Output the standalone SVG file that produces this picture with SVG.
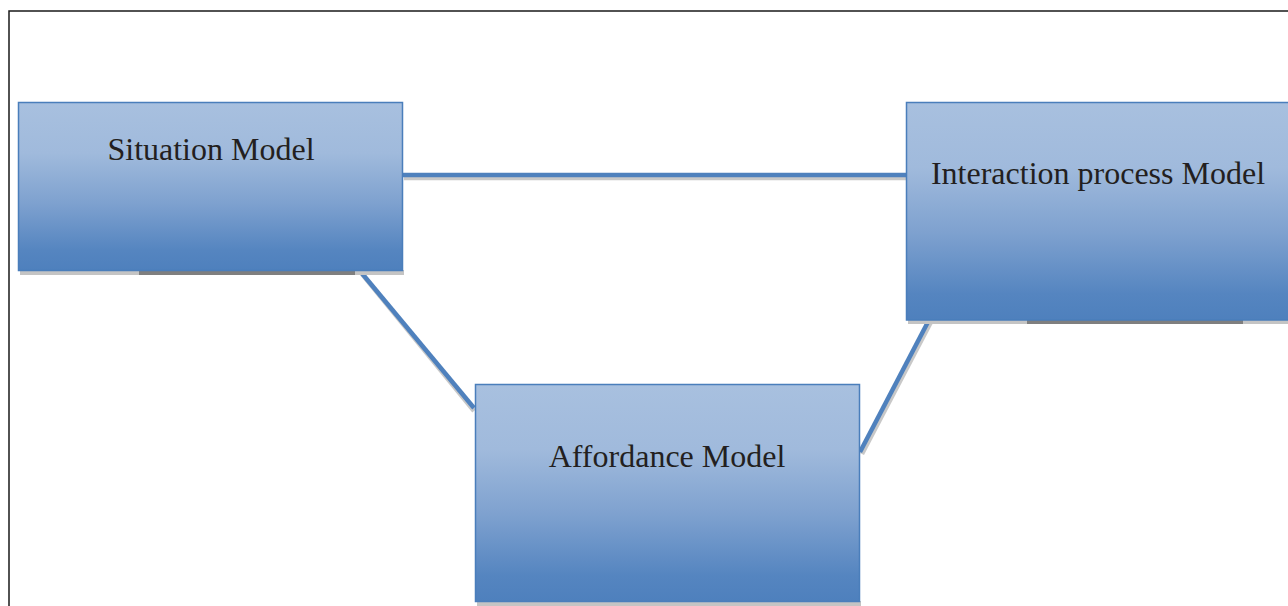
<svg xmlns="http://www.w3.org/2000/svg" width="1288" height="606" viewBox="0 0 1288 606">
  <defs>
    <linearGradient id="boxFill" x1="0" y1="0" x2="0" y2="1">
      <stop offset="0" stop-color="#a8c0df"/>
      <stop offset="0.3" stop-color="#a0badc"/>
      <stop offset="0.6" stop-color="#7ea1cf"/>
      <stop offset="0.88" stop-color="#5585c0"/>
      <stop offset="1" stop-color="#4e80bd"/>
    </linearGradient>
    <style>
      .box { fill: url(#boxFill); stroke: #4a7ebb; stroke-width: 1.5; }
      .shade { fill: #c4c4c4; }
      .shade-dark { fill: #7f7f7f; }
      .label { font-family: "Liberation Serif", "Times New Roman", serif; font-size: 32px; fill: #231f20; text-anchor: middle; }
      .link { stroke: #4f81bd; stroke-width: 4.5; fill: none; }
      .link-shade { stroke: #c8c8c8; stroke-width: 4.5; fill: none; }
    </style>
  </defs>

  <rect width="1288" height="606" fill="#ffffff"/>

  <!-- page frame -->
  <path d="M9,606 V11 H1288" fill="none" stroke="#1a1a1a" stroke-width="1.5"/>

  <!-- connectors -->
  <g id="connectors">
    <line class="link-shade" x1="404" y1="178" x2="906" y2="178"/>
    <line class="link-shade" x1="362" y1="274" x2="474" y2="411"/>
    <line class="link-shade" x1="931" y1="322" x2="862" y2="454"/>
    <line class="link" x1="403" y1="175" x2="906" y2="175"/>
    <line class="link" x1="360" y1="271" x2="474" y2="408"/>
    <line class="link" x1="929" y1="320" x2="860" y2="452"/>
  </g>

  <g id="situation-model">
    <rect class="shade" x="20" y="270" width="384" height="5"/>
    <rect class="shade-dark" x="139" y="270" width="216" height="5"/>
    <rect class="box" x="18.5" y="102.5" width="384" height="168"/>
    <text class="label" x="211" y="160">Situation Model</text>
  </g>

  <g id="interaction-process-model">
    <rect class="shade" x="908" y="320" width="382" height="4"/>
    <rect class="shade-dark" x="1027" y="320" width="216" height="4"/>
    <rect class="box" x="906.5" y="102.5" width="384" height="217.5"/>
    <text class="label" x="1098" y="184">Interaction process Model</text>
  </g>

  <g id="affordance-model">
    <rect class="shade" x="477" y="601" width="384" height="5"/>
    <rect class="box" x="475.5" y="384.5" width="384" height="217"/>
    <text class="label" x="667" y="467">Affordance Model</text>
  </g>
</svg>
